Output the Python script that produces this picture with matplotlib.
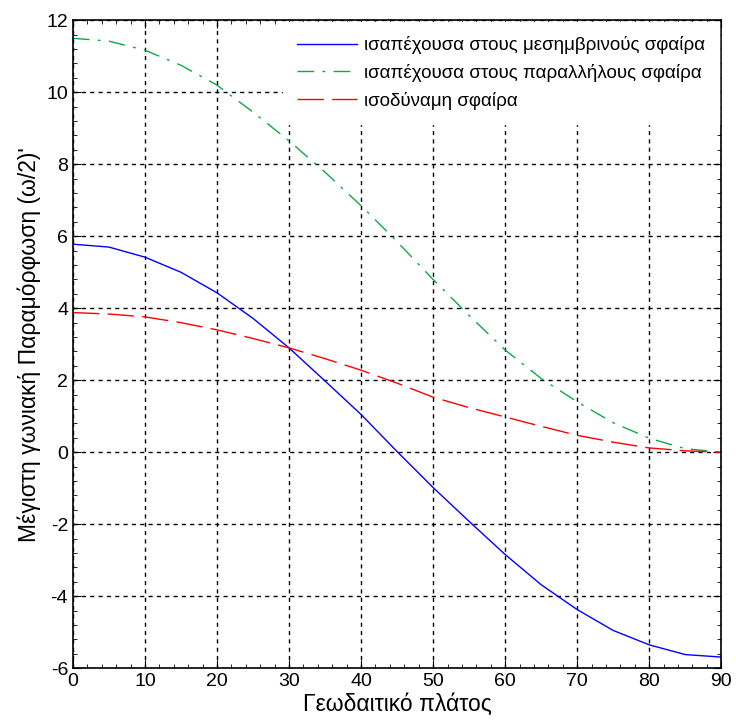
import numpy as np
import matplotlib
matplotlib.use('Agg')
import matplotlib.pyplot as plt
from matplotlib.ticker import MultipleLocator

plt.rcParams['font.family'] = ['Liberation Sans', 'DejaVu Sans']
plt.rcParams['axes.unicode_minus'] = False

# geodetic latitude (degrees)
lat = [0, 5, 10, 15, 20, 25, 30, 35, 40, 45, 50, 55, 60, 65, 70, 75, 80, 85, 90]

# max angular distortion (w/2)'
meridians = [5.78, 5.7, 5.42, 5.0, 4.43, 3.72, 2.9, 1.98, 1.05, 0.02, -0.98, -1.92,
             -2.84, -3.68, -4.37, -4.95, -5.35, -5.62, -5.69]
parallels = [11.5, 11.42, 11.17, 10.75, 10.2, 9.45, 8.65, 7.78, 6.85, 5.85, 4.8, 3.8,
             2.84, 2.05, 1.4, 0.82, 0.39, 0.1, 0.0]
equivalent = [3.88, 3.84, 3.76, 3.6, 3.4, 3.16, 2.9, 2.6, 2.28, 1.92, 1.53, 1.24,
              0.98, 0.72, 0.47, 0.28, 0.12, 0.04, 0.0]

labels = ['ισαπέχουσα στους μεσημβρινούς σφαίρα',
          'ισαπέχουσα στους παραλλήλους σφαίρα',
          'ισοδύναμη σφαίρα']

fig = plt.figure(figsize=(7.36, 7.24), dpi=100)
ax = fig.add_axes([0.099, 0.077, 0.881, 0.895])

ax.plot(lat, meridians, color='blue', lw=1.0, label=labels[0])
ax.plot(lat, parallels, color='#10a848', lw=1.0, dashes=(12, 6, 2, 6), label=labels[1])
ax.plot(lat, equivalent, color='red', lw=1.0, dashes=(19, 6), label=labels[2])

ax.set_xlim(0, 90)
ax.set_ylim(-6, 12)
ax.xaxis.set_major_locator(MultipleLocator(10))
ax.xaxis.set_minor_locator(MultipleLocator(2))
ax.yaxis.set_major_locator(MultipleLocator(2))
ax.yaxis.set_minor_locator(MultipleLocator(0.4))
ax.tick_params(which='both', direction='in', top=True, right=True, labelsize=14)
ax.tick_params(which='major', length=6)
ax.tick_params(which='minor', length=3)
ax.grid(True, which='major', color='black', lw=1.0, dashes=(3, 3))
for s in ax.spines.values():
    s.set_linewidth(1.2)

ax.set_xlabel('Γεωδαιτικό πλάτος', fontsize=16.5, labelpad=2)
ax.set_ylabel("Μέγιστη γωνιακή Παραμόρφωση (ω/2)'", fontsize=16.5, labelpad=4)

leg = ax.legend(loc='upper right', fontsize=13.5, frameon=True, fancybox=False,
                framealpha=1, edgecolor='white', handlelength=3.2,
                handletextpad=0.4, labelspacing=0.52,
                borderaxespad=0.1, borderpad=0.75)

plt.savefig('out.png', dpi=100)
